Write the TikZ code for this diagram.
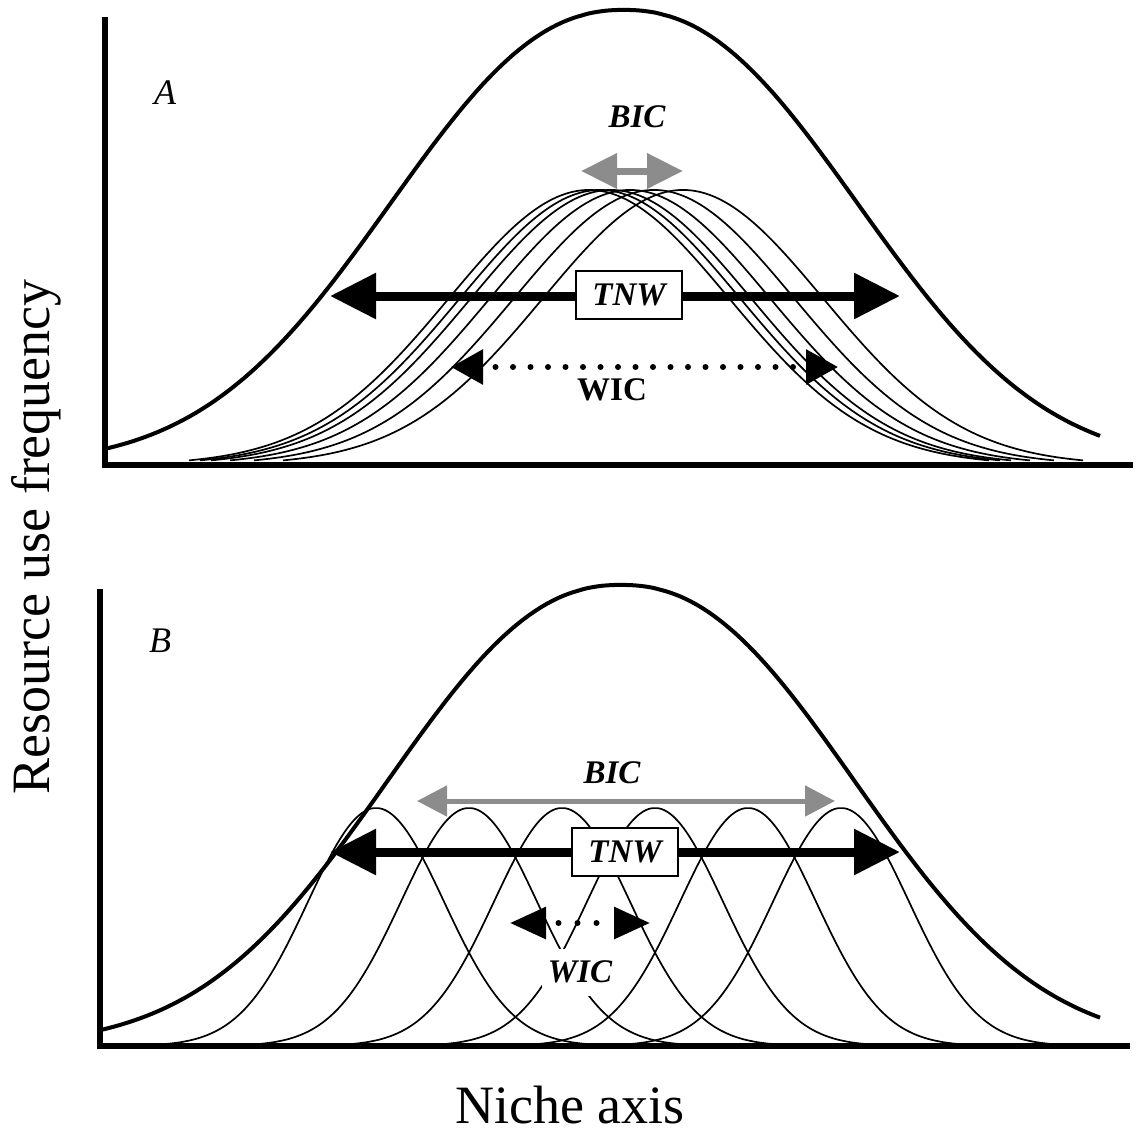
\documentclass[tikz,border=0pt]{standalone}
\usepackage{fontspec}
\setmainfont{Liberation Serif}
\usetikzlibrary{arrows.meta}
\usetikzlibrary{positioning}
\definecolor{bicgray}{gray}{0.55}
\tikzstyle{axisline} = [line width=5.5pt, line cap=rect]
\tikzstyle{bigcurve} = [line width=4pt]
\tikzstyle{nichecurve} = [line width=1.7pt]
\tikzstyle{tnwarrow} = [line width=9pt, {Triangle[length=46pt,width=44pt]}-{Triangle[length=46pt,width=44pt]}]
\tikzstyle{bicarrowA} = [line width=7pt, draw=bicgray, {Triangle[length=36pt,width=34pt]}-{Triangle[length=36pt,width=34pt]}]
\tikzstyle{bicarrowB} = [line width=5pt, draw=bicgray, {Triangle[length=30pt,width=30pt]}-{Triangle[length=30pt,width=30pt]}]
\tikzstyle{wicarrowA} = [line width=6pt, line cap=round, dash pattern=on 0pt off 17.5pt, dash phase=3.5pt, {Triangle[length=32pt,width=34pt]}-{Triangle[length=32pt,width=34pt]}]
\tikzstyle{wicarrowB} = [line width=6pt, line cap=round, dash pattern=on 0pt off 19pt, dash phase=5pt, {Triangle[length=36pt,width=31pt]}-{Triangle[length=36pt,width=31pt]}]
\tikzstyle{tnwbox} = [rectangle, draw=black, line width=2pt, fill=white, minimum width=106pt, minimum height=48pt, inner sep=0pt, font=\fontsize{33}{36}\selectfont\bfseries\itshape]
\tikzstyle{tag} = [inner sep=0pt, font=\fontsize{33}{36}\selectfont\bfseries\itshape]
\tikzstyle{panel} = [inner sep=0pt, font=\fontsize{36}{40}\selectfont\itshape]
\tikzstyle{axislabel} = [inner sep=0pt, font=\fontsize{54}{60}\selectfont]

\begin{document}
\begin{tikzpicture}[x=1pt, y=-1pt,
  declare function={bigbell(\t)=exp(-exp(2.25*ln(abs(\t)/303.7+0.00001)));
                    nichebell(\t,\s)=exp(-0.5*((\t)/(\s))^2);}]
\useasboundingbox (0,0) rectangle (1138,1136);

\foreach \c in {589,600,611,630,654,683}
  \draw[nichecurve] plot[domain=\c-400:\c+400, samples=120, smooth] (\x, {465-275*nichebell(\x-\c,140)});
\draw[bigcurve] plot[domain=107:1100, samples=160, smooth] (\x, {465-455*bigbell(\x-624)});
\draw[axisline] (105,20) -- (105,465) -- (1130,465);

\foreach \c in {376,469,562,655,748,841}
  \draw[nichecurve] plot[domain=\c-220:\c+220, samples=100, smooth] (\x, {1046-238*nichebell(\x-\c,68)});
\draw[bigcurve] plot[domain=100:1100, samples=160, smooth] (\x, {1046-461*bigbell(\x-621)});
\draw[axisline] (100,592) -- (100,1046) -- (1127,1046);

\node (panelA) [panel] at (165,93) {A};
\node (panelB) [panel] at (160,641) {B};

\coordinate (bicAl) at (581,171);
\coordinate (bicAr) at (683,171);
\draw[bicarrowA] (bicAl) -- (bicAr);
\node (bicA) [tag] at (637,117) {BIC};
\coordinate (tnwAl) at (330,296);
\coordinate (tnwAr) at (900,296);
\draw[tnwarrow] (tnwAl) -- (tnwAr);
\node (tnwA) [tnwbox] at (629,295) {TNW};
\coordinate (wicAl) at (451,367);
\coordinate (wicAr) at (838,367);
\draw[wicarrowA] (wicAl) -- (wicAr);
\node (wicA) [tag, font=\fontsize{33}{36}\selectfont\bfseries] at (612,390) {WIC};

\coordinate (bicBl) at (417,801);
\coordinate (bicBr) at (835,801);
\draw[bicarrowB] (bicBl) -- (bicBr);
\node (bicB) [tag] at (612,773) {BIC};
\coordinate (tnwBl) at (330,852);
\coordinate (tnwBr) at (900,852);
\draw[tnwarrow] (tnwBl) -- (tnwBr);
\node (tnwB) [tnwbox] at (625,852) {TNW};
\coordinate (wicBl) at (510,923);
\coordinate (wicBr) at (650,923);
\draw[wicarrowB] (wicBl) -- (wicBr);
\node (wicB) [tag, fill=white, minimum height=47pt, inner xsep=6pt] at (580,972) {WIC};

\node (ylabel) [axislabel, rotate=90] at (36,537) {Resource use frequency};
\node (xlabel) [axislabel] at (570,1105) {Niche axis};
\end{tikzpicture}
\end{document}
